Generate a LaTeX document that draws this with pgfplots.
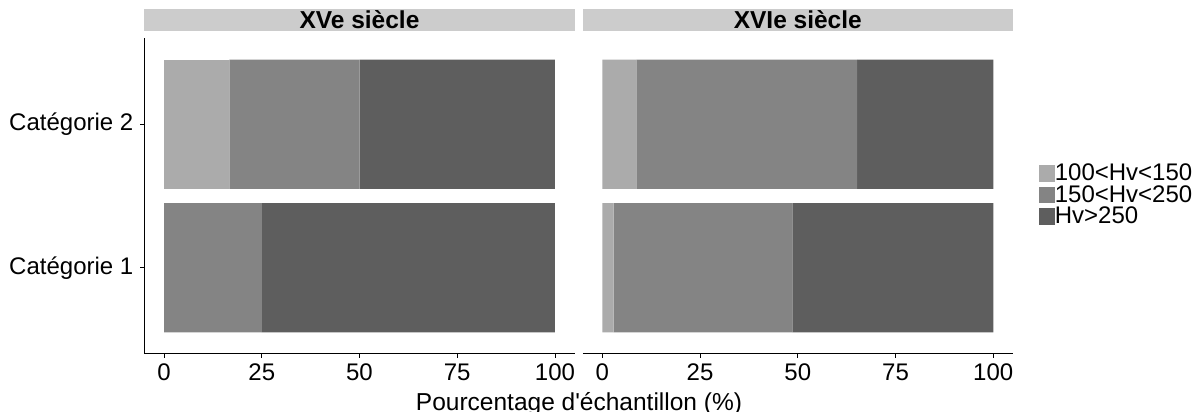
\documentclass[border=0pt]{standalone}
\usepackage{fontspec}
\setmainfont{Liberation Sans}
\usepackage{pgfplots}
\pgfplotsset{compat=1.18}
\definecolor{cA}{HTML}{ABABAB}
\definecolor{cB}{HTML}{848484}
\definecolor{cC}{HTML}{5E5E5E}
\definecolor{stripgray}{HTML}{CCCCCC}
\newcommand{\lf}{\fontsize{24}{24}\selectfont}
\pgfplotsset{
 facet/.style={
  scale only axis, width=430pt, height=316pt,
  xmin=-5, xmax=105, ymin=0.4, ymax=2.6,
  xbar stacked, bar width=0.9,
  axis x line*=bottom,
  xtick={0,25,50,75,100},
  tick align=outside, major tick length=4pt,
  tick style={black, line width=0.8pt},
  axis line style={black, line width=1pt},
  ticklabel style={font=\fontsize{24}{24}\selectfont},
  /pgf/number format/assume math mode=true,
  xticklabel style={text height=17pt, text depth=0pt, inner sep=0pt, yshift=-5pt},
  title style={at={(0.5,1)}, anchor=south, yshift=1pt, fill=stripgray,
    minimum width=430pt, minimum height=22pt, inner sep=0pt,
    text height=20pt, text depth=2pt,
    font=\bfseries\fontsize{24.5}{24.5}\selectfont},
 }
}
\begin{document}
\begin{tikzpicture}
\path[use as bounding box] (0pt,0pt) rectangle (1199pt,412pt);
\begin{axis}[facet, at={(144.5pt,58pt)}, anchor=south west,
  axis y line*=left,
  ytick={1,2}, yticklabels={Catégorie 1, Catégorie 2},
  yticklabel style={inner sep=0pt, xshift=-7pt},
  title={XVe siècle}]
\addplot[fill=cA, draw=none] coordinates {(0,1) (16.7,2)};
\addplot[fill=cB, draw=none] coordinates {(25,1) (33.3,2)};
\addplot[fill=cC, draw=none] coordinates {(75,1) (50,2)};
\end{axis}
\begin{axis}[facet, at={(582.8pt,58pt)}, anchor=south west,
  axis y line=none, ytick=\empty,
  title={XVIe siècle},
  legend style={at={(1,0.5)}, anchor=west, xshift=26pt, draw=none, fill=none,
    inner sep=0pt, outer sep=0pt, row sep=0pt, font=\lf,
    nodes={inner sep=0pt, text height=17pt, text depth=4.5pt, font=\lf}},
  legend cell align=left,
  legend image code/.code={\fill[#1] (0pt,-7.5pt) rectangle (16pt,9pt);}]
\addplot[fill=cA, draw=none] coordinates {(2.9,1) (8.7,2)};
\addlegendentry{100<Hv<150}
\addplot[fill=cB, draw=none] coordinates {(45.7,1) (56.5,2)};
\addlegendentry{150<Hv<250}
\addplot[fill=cC, draw=none] coordinates {(51.4,1) (34.8,2)};
\addlegendentry{Hv>250}
\end{axis}
\node[anchor=base, font=\fontsize{24.5}{24.5}\selectfont] at (579pt,1pt) {Pourcentage d\textquotesingle échantillon (\%)};
\end{tikzpicture}
\end{document}
